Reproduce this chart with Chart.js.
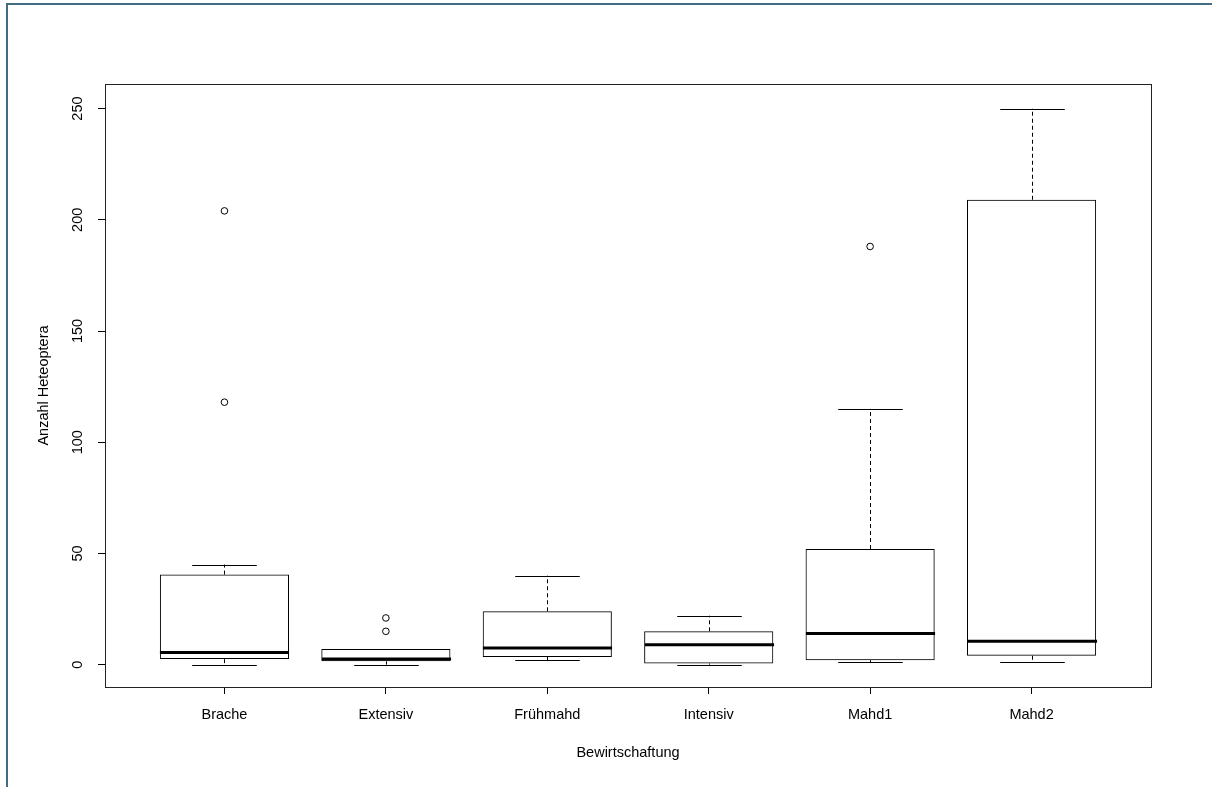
<!DOCTYPE html>
<html lang="de">
<head>
<meta charset="UTF-8">
<title>Anzahl Heteoptera nach Bewirtschaftung</title>
<script src="https://cdn.jsdelivr.net/npm/chart.js"></script>
<style>
    body {
        margin: 0;
        background: #fff;
    }

    #wrap {
        position: relative;
        width: 1212px;
        height: 787px;
        overflow: hidden;
    }

    #wrap canvas {
        position: absolute;
        left: 0;
        top: 0;
    }

    #frame {
        position: absolute;
        left: 6px;
        top: 3px;
        right: -10px;
        bottom: -10px;
        border-left: 2px solid #436c82;
        border-top: 2px solid #436c82;
        pointer-events: none;
    }
</style>
</head>
<body>
<div id="wrap">
    <canvas id="chart" width="1212" height="787"></canvas>
    <div id="frame"></div>
</div>

<script>
    // values
    const categories = ['Brache', 'Extensiv', 'Frühmahd', 'Intensiv', 'Mahd1', 'Mahd2'];
    const whiskerLow = [0, 0, 2, 0, 1, 1];
    const boxLow = [2.5, 1.5, 3.5, 0.5, 2, 4];
    const medians = [5.5, 2.5, 7.5, 9, 14, 10.5];
    const boxHigh = [40.5, 7, 24, 15, 52, 209];
    const whiskerHigh = [45, 7, 40, 22, 115, 250];
    const outliers = [[204, 118], [21, 15], [], [], [188], []];
    const yTicks = [0, 50, 100, 150, 200, 250];

    const FONT = '"Liberation Sans", Arial, sans-serif';
    Chart.defaults.font.family = FONT;
    Chart.defaults.color = '#000';

    const boxData = categories.map((c, i) => ({ x: i + 1, y: [boxLow[i], boxHigh[i]] }));
    const outlierData = [];
    outliers.forEach((vals, i) => vals.forEach(v => outlierData.push({ x: i + 1, y: v })));

    // whiskers, staples, medians and plot frame
    const boxLines = {
        id: 'boxLines',
        afterDatasetsDraw(chart) {
            const { ctx, scales: { x, y }, chartArea } = chart;
            const unit = x.getPixelForValue(2) - x.getPixelForValue(1);
            const seg = (x1, y1, x2, y2) => {
                ctx.beginPath();
                ctx.moveTo(x1, y1);
                ctx.lineTo(x2, y2);
                ctx.stroke();
            };
            ctx.save();
            ctx.strokeStyle = '#000';
            categories.forEach((c, i) => {
                const cx = Math.round(x.getPixelForValue(i + 1)) + 0.5;
                const cap = unit * 0.2;
                const half = unit * 0.4;
                ctx.lineWidth = 1;
                ctx.setLineDash([4, 3]);
                if (whiskerHigh[i] > boxHigh[i]) seg(cx, y.getPixelForValue(boxHigh[i]), cx, y.getPixelForValue(whiskerHigh[i]));
                if (whiskerLow[i] < boxLow[i]) seg(cx, y.getPixelForValue(boxLow[i]), cx, y.getPixelForValue(whiskerLow[i]));
                ctx.setLineDash([]);
                const yh = Math.round(y.getPixelForValue(whiskerHigh[i])) + 0.5;
                const yl = Math.round(y.getPixelForValue(whiskerLow[i])) + 0.5;
                seg(cx - cap, yh, cx + cap, yh);
                seg(cx - cap, yl, cx + cap, yl);
                ctx.lineWidth = 3;
                const ym = y.getPixelForValue(medians[i]);
                seg(cx - half, ym, cx + half, ym);
            });
            ctx.lineWidth = 1;
            ctx.strokeStyle = '#222';
            ctx.strokeRect(chartArea.left + 0.5, chartArea.top + 0.5,
                chartArea.right - chartArea.left, chartArea.bottom - chartArea.top);
            ctx.restore();
        }
    };

    new Chart(document.getElementById('chart'), {
        type: 'bar',
        data: {
            datasets: [{
                label: 'Box',
                data: boxData,
                backgroundColor: 'rgba(255,255,255,0)',
                borderColor: '#000',
                borderWidth: 1,
                borderSkipped: false,
                barPercentage: 0.8,
                categoryPercentage: 1
            }, {
                type: 'scatter',
                label: 'Ausreißer',
                data: outlierData,
                pointStyle: 'circle',
                pointRadius: 3.3,
                borderWidth: 1,
                borderColor: '#000',
                backgroundColor: 'rgba(255,255,255,0)'
            }]
        },
        options: {
            responsive: false,
            animation: false,
            layout: { padding: { left: 0, top: 84, right: 61, bottom: 0 } },
            plugins: {
                legend: { display: false },
                tooltip: { enabled: false }
            },
            scales: {
                x: {
                    type: 'linear',
                    min: 0.26,
                    max: 6.74,
                    offset: false,
                    grid: { display: true, offset: false, drawOnChartArea: false, tickLength: 7, tickColor: '#000' },
                    border: { display: false },
                    afterBuildTicks: s => { s.ticks = categories.map((c, i) => ({ value: i + 1 })); },
                    afterFit: s => { s.height = 100; },
                    ticks: {
                        autoSkip: false,
                        maxRotation: 0,
                        padding: 12,
                        font: { size: 14.5 },
                        callback: v => categories[v - 1]
                    },
                    title: {
                        display: true,
                        text: 'Bewirtschaftung',
                        font: { size: 14.5 },
                        padding: { top: 0, bottom: 25 }
                    }
                },
                y: {
                    min: -10.04,
                    max: 261.04,
                    grid: { display: true, drawOnChartArea: false, tickLength: 7, tickColor: '#000' },
                    border: { display: false },
                    afterBuildTicks: s => { s.ticks = yTicks.map(v => ({ value: v })); },
                    afterFit: s => { s.width = 105; },
                    ticks: {
                        minRotation: 90,
                        maxRotation: 90,
                        crossAlign: 'center',
                        padding: 8,
                        font: { size: 14.5 }
                    },
                    title: {
                        display: true,
                        text: 'Anzahl Heteoptera',
                        font: { size: 14.5 },
                        padding: { top: 35, bottom: 0 }
                    }
                }
            }
        },
        plugins: [boxLines]
    });
</script>
</body>
</html>
